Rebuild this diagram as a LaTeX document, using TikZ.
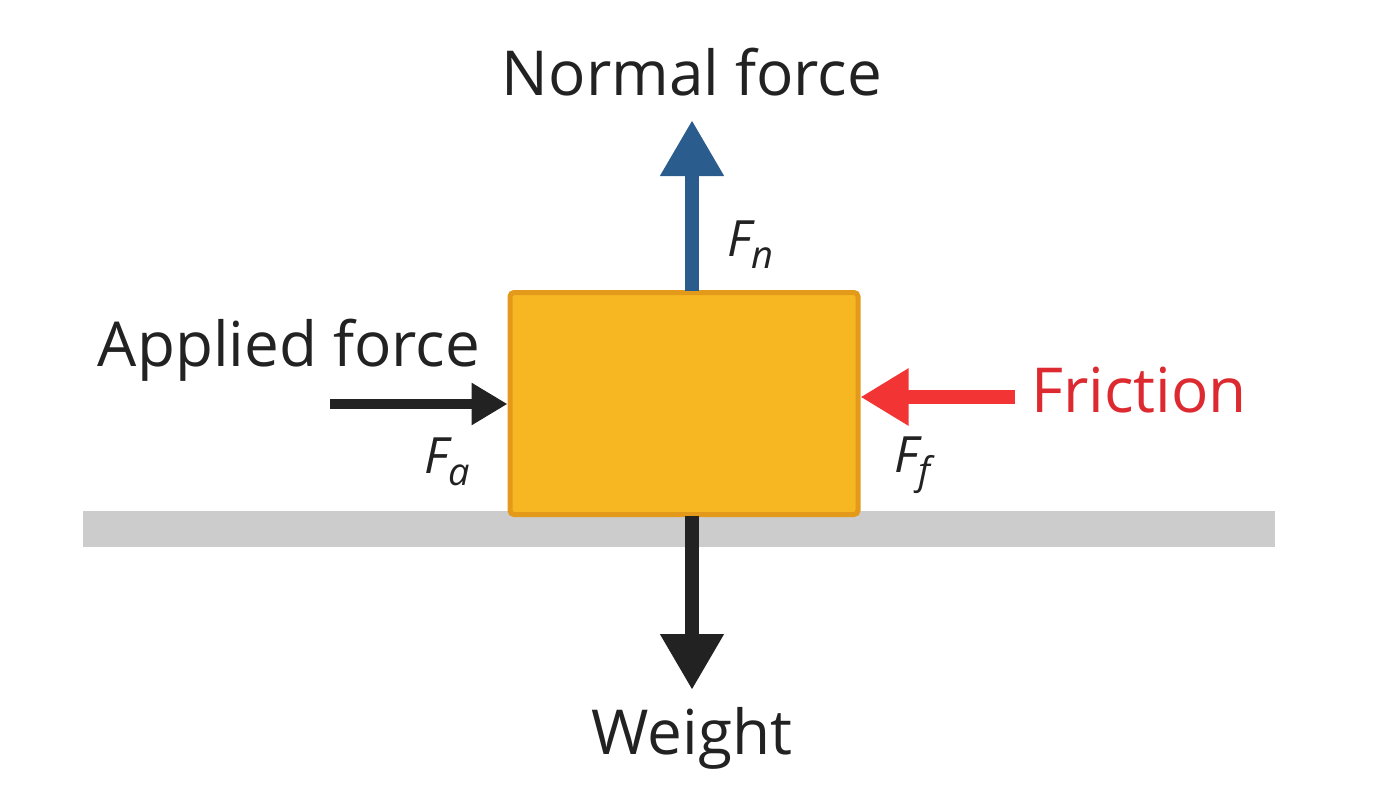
\documentclass[tikz,border=0pt]{standalone}
\usepackage{fontspec}
\setmainfont{Open Sans}
\usetikzlibrary{arrows.meta}
\definecolor{boxfill}{HTML}{F7B722}
\definecolor{boxline}{HTML}{E39A1B}
\definecolor{nblue}{HTML}{2B5C8E}
\definecolor{fred}{HTML}{F23434}
\definecolor{tred}{HTML}{DD2A30}
\definecolor{ink}{HTML}{222222}
\definecolor{ground}{HTML}{CCCCCC}
\newcommand{\fsub}[1]{F\raisebox{-0.45ex}{\fontsize{19}{22}\selectfont\itshape #1}}
\begin{document}
\begin{tikzpicture}[x=0.5pt,y=-0.5pt,
  lbl/.style={font=\fontsize{31}{36}\selectfont, text=ink, inner sep=0pt},
  sym/.style={font=\fontsize{25}{28}\selectfont\itshape, text=ink, inner sep=0pt},
  force/.style={line width=7pt, -{Triangle[width=30pt,length=28pt]}}]
\useasboundingbox (0,0) rectangle (1400,787);
\fill[ground] (83,511) rectangle (1275,547);
\node[draw=boxline, fill=boxfill, line width=2.5pt, rounded corners=2pt, minimum width=174pt, minimum height=111pt, inner sep=0pt] (box) at (684,403.5) {};
\coordinate (ntip) at (692,120);
\coordinate (wtip) at (692,690);
\coordinate (atail) at (330,404);
\coordinate (ftail) at (1015,397);
\draw[force, nblue] (692,291) -- (ntip);
\draw[force, ink] (692,516) -- (wtip);
\draw[ink, line width=5pt, -{Triangle[width=20pt,length=18pt]}] (atail) -- (box.west |- atail);
\draw[fred, line width=7pt, -{Triangle[width=27pt,length=24pt]}] (ftail) -- (box.east |- ftail);
\node[lbl] (nl) at (692,72) {Normal force};
\node[lbl] (wl) at (692,738) {Weight};
\node[lbl] (al) at (289,350) {Applied force};
\node[lbl, text=tred] (fl) at (1139,390) {Friction};
\node[sym] (fn) at (750,245) {\fsub{n}};
\node[sym] (fa) at (447,462) {\fsub{a}};
\node[sym] (ff) at (912,465) {\fsub{f}};
\end{tikzpicture}
\end{document}
